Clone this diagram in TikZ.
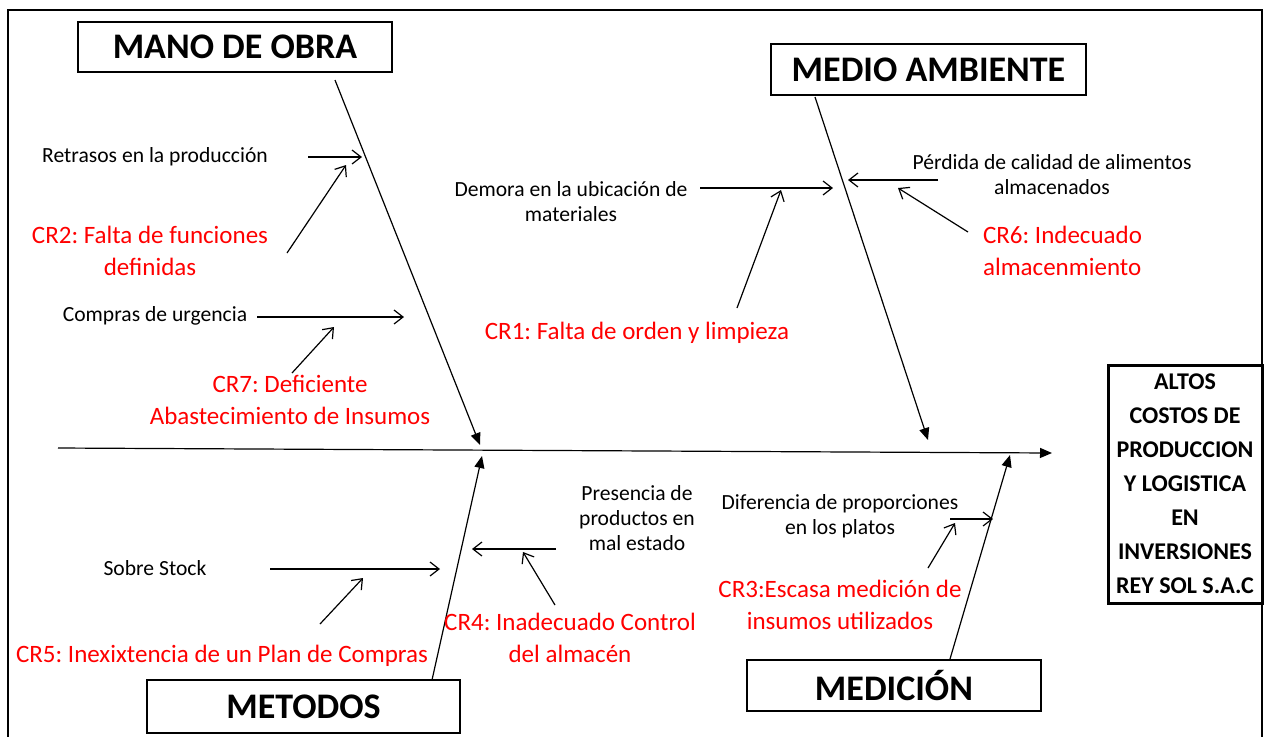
\documentclass[tikz,border=0pt]{standalone}
\usepackage{fontspec}
\setmainfont{Carlito}
\usetikzlibrary{arrows,arrows.meta}
\frenchspacing

\begin{document}
\begin{tikzpicture}[x=0.5pt,y=-0.5pt]
			\tikzstyle{es} = [-{Triangle[length=6pt,width=5pt]}, semithick]
			\tikzstyle{sa} = [-{Straight Barb[length=4.5pt,width=7pt]}, semithick]
			\tikzstyle{cat} = [draw, semithick, inner sep=0pt, font=\fontsize{18}{21}\selectfont\bfseries]
			\tikzstyle{blk} = [align=center, font=\fontsize{10.8}{12.5}\selectfont]
			\tikzstyle{cr} = [align=center, text=red, font=\fontsize{12.5}{16}\selectfont]
			\useasboundingbox (0,0) rectangle (1270,736);
			\draw [line width=1pt] (8,740) -- (8,10) -- (1262,10) -- (1262,740);
			% categorias
			\node [cat, minimum width=157pt, minimum height=25pt] (mo) at (235,47) {MANO DE OBRA};
			\node [cat, minimum width=157.5pt, minimum height=25.5pt] (ma) at (928.5,69.5) {MEDIO AMBIENTE};
			\node [cat, minimum width=156.5pt, minimum height=26.5pt] (me) at (303.5,706.5) {METODOS};
			\node [cat, minimum width=147pt, minimum height=25.5pt] (md) at (894,685.5) {MEDICIÓN};
			\node [draw, line width=1.5pt, minimum width=77pt, minimum height=119pt, align=center, font=\fontsize{12}{17}\selectfont\bfseries] (ef) at (1185,484) {ALTOS\\COSTOS DE\\PRODUCCION\\Y LOGISTICA\\EN\\INVERSIONES\\REY SOL S.A.C};
			% espina
			\coordinate (v1) at (58,448);
			\coordinate (v2) at (1052,453);
			\draw [es] (v1) -- (v2);
			\coordinate (v3) at (335,80);
			\coordinate (v4) at (480,445);
			\draw [es] (v3) -- (v4);
			\coordinate (v5) at (815,97);
			\coordinate (v6) at (928,440);
			\draw [es] (v5) -- (v6);
			\coordinate (v7) at (432,680);
			\coordinate (v8) at (482,456);
			\draw [es] (v7) -- (v8);
			\coordinate (v9) at (950,659);
			\coordinate (v10) at (1010,455);
			\draw [es] (v9) -- (v10);
			% causas
			\node [blk] (t1) at (155,157) {Retrasos en la producción};
			\node [blk] (t2) at (155,316) {Compras de urgencia};
			\node [blk] (t3) at (155,568) {Sobre Stock};
			\node [blk] (t4) at (571,202) {Demora en la ubicación de\\materiales};
			\node [blk] (t5) at (1052,175) {Pérdida de calidad de alimentos\\almacenados};
			\node [blk] (t6) at (637,518) {Presencia de\\productos en\\mal estado};
			\node [blk] (t7) at (840,516) {Diferencia de proporciones\\en los platos};
			\node [cr] (c2) at (150,251) {CR2: Falta de funciones\\definidas};
			\node [cr] (c7) at (290,400) {CR7: Deficiente\\Abastecimiento de Insumos};
			\node [cr] (c1) at (637,333) {CR1: Falta de orden y limpieza};
			\node [cr, align=left, anchor=west] (c6) at (976,251) {CR6: Indecuado\\almacenmiento};
			\node [cr] (c5) at (222,656) {CR5: Inexixtencia de un Plan de Compras};
			\node [cr] (c4) at (570,638) {CR4: Inadecuado Control\\del almacén};
			\node [cr] (c3) at (840,605) {CR3:Escasa medición de\\insumos utilizados};
			% flechas
			\coordinate (v11) at (308,157);
			\coordinate (v12) at (362,157);
			\draw [sa] (v11) -- (v12);
			\coordinate (v13) at (287,253);
			\coordinate (v14) at (346,165);
			\draw [sa] (v13) -- (v14);
			\coordinate (v15) at (257,317);
			\coordinate (v16) at (404,317);
			\draw [sa] (v15) -- (v16);
			\coordinate (v17) at (292,373);
			\coordinate (v18) at (334,327);
			\draw [sa] (v17) -- (v18);
			\coordinate (v19) at (700,188);
			\coordinate (v20) at (833,188);
			\draw [sa] (v19) -- (v20);
			\coordinate (v21) at (737,308);
			\coordinate (v22) at (781,190);
			\draw [sa] (v21) -- (v22);
			\coordinate (v23) at (938,180);
			\coordinate (v24) at (848,180);
			\draw [sa] (v23) -- (v24);
			\coordinate (v25) at (968,232);
			\coordinate (v26) at (898,188);
			\draw [sa] (v25) -- (v26);
			\coordinate (v27) at (270,569);
			\coordinate (v28) at (440,569);
			\draw [sa] (v27) -- (v28);
			\coordinate (v29) at (320,624);
			\coordinate (v30) at (363,578);
			\draw [sa] (v29) -- (v30);
			\coordinate (v31) at (556,549);
			\coordinate (v32) at (472,549);
			\draw [sa] (v31) -- (v32);
			\coordinate (v33) at (555,605);
			\coordinate (v34) at (523,552);
			\draw [sa] (v33) -- (v34);
			\coordinate (v35) at (950,519);
			\coordinate (v36) at (993,519);
			\draw [sa] (v35) -- (v36);
			\coordinate (v37) at (928,568);
			\coordinate (v38) at (955,523);
			\draw [sa] (v37) -- (v38);
		\end{tikzpicture}
\end{document}
